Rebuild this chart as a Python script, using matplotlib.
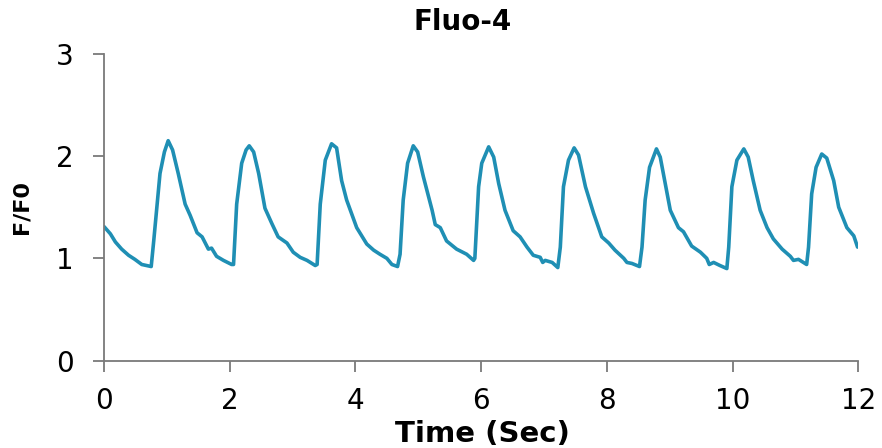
"""
Fluo-4 calcium transient trace (F/F0 over 12 s of recording).
"""

import matplotlib
matplotlib.use("Agg")
import matplotlib.pyplot as plt

# ─── trace samples (time in s, normalised fluorescence) ─────────────────────
time_s = [
    0.00, 0.10, 0.18, 0.28, 0.39, 0.49, 0.60, 0.75, 0.79, 0.89, 0.96, 1.02,
    1.09, 1.18, 1.29, 1.37, 1.48, 1.56, 1.66, 1.71, 1.79, 1.90, 2.03, 2.06,
    2.11, 2.19, 2.26, 2.31, 2.38, 2.46, 2.56, 2.67, 2.77, 2.91, 3.01, 3.12,
    3.23, 3.36, 3.39, 3.44, 3.52, 3.62, 3.70, 3.78, 3.86, 4.02, 4.18, 4.29,
    4.39, 4.50, 4.58, 4.67, 4.71, 4.76, 4.83, 4.92, 4.99, 5.08, 5.22, 5.27,
    5.35, 5.45, 5.61, 5.77, 5.88, 5.90, 5.96, 6.01, 6.12, 6.20, 6.28, 6.38,
    6.51, 6.62, 6.73, 6.83, 6.94, 6.98, 7.02, 7.13, 7.22, 7.26, 7.31, 7.39,
    7.48, 7.55, 7.66, 7.79, 7.92, 8.03, 8.13, 8.27, 8.32, 8.40, 8.52, 8.56,
    8.61, 8.68, 8.79, 8.85, 8.93, 9.01, 9.14, 9.22, 9.35, 9.49, 9.59, 9.63,
    9.70, 9.80, 9.91, 9.94, 9.99, 10.07, 10.18, 10.25, 10.33, 10.44, 10.55,
    10.65, 10.79, 10.92, 10.97, 11.05, 11.18, 11.21, 11.26, 11.33, 11.42,
    11.50, 11.61, 11.69, 11.82, 11.93, 11.99,
]
f_f0 = [
    1.31, 1.24, 1.16, 1.09, 1.03, 0.99, 0.94, 0.92, 1.17, 1.83, 2.04, 2.15,
    2.06, 1.83, 1.53, 1.42, 1.25, 1.21, 1.09, 1.10, 1.02, 0.98, 0.94, 0.94,
    1.53, 1.93, 2.06, 2.10, 2.04, 1.83, 1.49, 1.34, 1.21, 1.15, 1.06, 1.01,
    0.98, 0.93, 0.94, 1.53, 1.96, 2.12, 2.08, 1.76, 1.57, 1.30, 1.14, 1.08,
    1.04, 1.00, 0.94, 0.92, 1.04, 1.57, 1.93, 2.10, 2.04, 1.80, 1.47, 1.33,
    1.30, 1.17, 1.09, 1.04, 0.98, 1.00, 1.70, 1.93, 2.09, 1.99, 1.73, 1.47,
    1.27, 1.21, 1.11, 1.03, 1.01, 0.96, 0.98, 0.96, 0.91, 1.11, 1.70, 1.96,
    2.08, 2.01, 1.70, 1.44, 1.21, 1.15, 1.08, 1.00, 0.96, 0.95, 0.92, 1.11,
    1.57, 1.89, 2.07, 1.99, 1.73, 1.47, 1.30, 1.26, 1.12, 1.06, 1.00, 0.94,
    0.96, 0.93, 0.90, 1.11, 1.70, 1.96, 2.07, 1.99, 1.76, 1.47, 1.30,
    1.19, 1.09, 1.02, 0.98, 0.99, 0.94, 1.11, 1.63, 1.89, 2.02,
    1.98, 1.76, 1.50, 1.30, 1.22, 1.11,
]

x_ticks = [0, 2, 4, 6, 8, 10, 12]
y_ticks = [0, 1, 2, 3]

TRACE_COLOR = "#1f8fb4"
AXIS_COLOR = "#7a7a7a"

# ─── figure ──────────────────────────────────────────────────────────────────
fig = plt.figure(figsize=(8.82, 4.48), dpi=100)
ax = fig.add_axes([0.118, 0.195, 0.855, 0.685])

ax.plot(time_s, f_f0, color=TRACE_COLOR, linewidth=2.6,
        solid_joinstyle="round", solid_capstyle="round")

ax.set_xlim(0, 12)
ax.set_ylim(0, 3)
ax.set_xticks(x_ticks)
ax.set_yticks(y_ticks)
ax.set_xticklabels([str(t) for t in x_ticks], fontsize=20)
ax.set_yticklabels([str(t) for t in y_ticks], fontsize=20)

ax.spines[["top", "right"]].set_visible(False)
for side in ["left", "bottom"]:
    ax.spines[side].set_color(AXIS_COLOR)
    ax.spines[side].set_linewidth(1.3)
ax.tick_params(axis="both", direction="out", length=8, width=1.3,
               color=AXIS_COLOR, labelcolor="black")
ax.tick_params(axis="x", pad=11)
ax.tick_params(axis="y", pad=14)

ax.set_xlabel("Time (Sec)", fontsize=21, fontweight="bold")
ax.xaxis.set_label_coords(0.502, -0.195)
fig.text(0.024, 0.538, "F/F0", rotation=90, fontsize=16, fontweight="bold",
         ha="center", va="center")
fig.text(0.525, 0.951, "Fluo-4", fontsize=20, fontweight="bold",
         ha="center", va="center")

fig.savefig("out.png", dpi=100)
plt.close(fig)
